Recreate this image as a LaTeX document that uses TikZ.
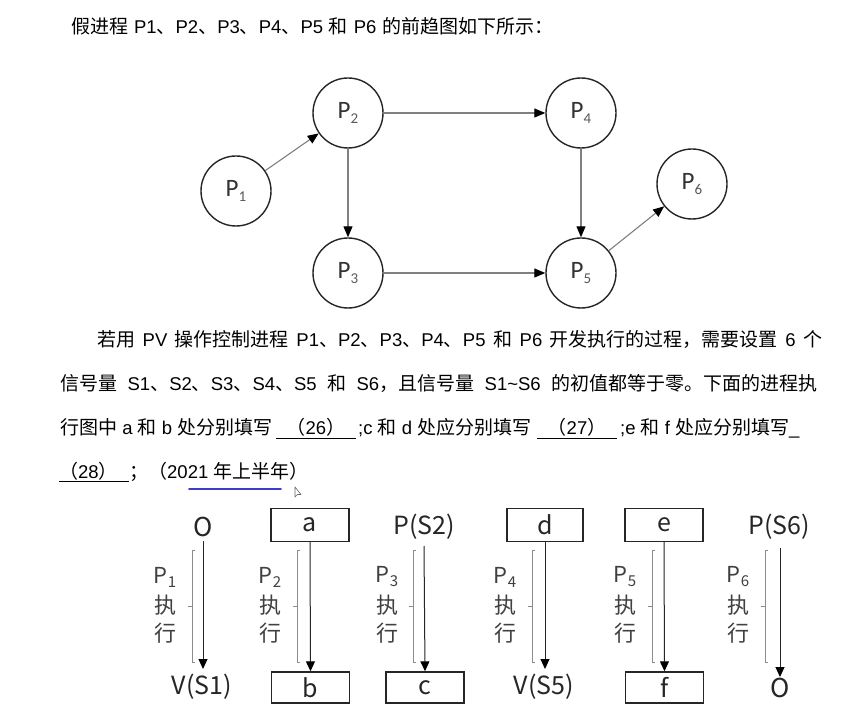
\documentclass[tikz,border=0pt]{standalone}
\usepackage{fontspec}
\setmainfont{Liberation Sans}
\newfontfamily\zhfont{Noto Sans CJK SC}
\newfontfamily\dgfont{Noto Sans CJK SC}
\newfontfamily\grfont{Carlito}
\usetikzlibrary{arrows.meta}
\definecolor{penblue}{RGB}{60,60,205}
\newcommand\zh[1]{{\zhfont\fontsize{19}{22}\selectfont #1}}
\newcommand\paraf{\fontsize{18.5}{22}\selectfont}
\newcommand\dglarge{\dgfont\fontsize{25}{25}\selectfont}
\newcommand\dgside{\dgfont\fontsize{22}{22}\selectfont}
\newcommand\gP[1]{P\raisebox{-5pt}{\fontsize{15}{15}\selectfont\color{black!65}#1}}
\newcommand\sP[1]{P\raisebox{-4pt}{\fontsize{15}{15}\selectfont #1}}
\newcommand\brkt[1]{%
  \draw[brk] (#1+3,550) -- (#1,550) -- (#1,662) -- (#1+3,662);
  \draw[brk] (#1,606) -- (#1-4,606);}
\tikzset{
  circ/.style={circle, draw=black!85, line width=1.4pt, minimum size=70pt, inner sep=0pt, font=\grfont\fontsize{25}{25}\selectfont, text=black!80},
  garr/.style={draw=black!50, line width=1.1pt, -{Triangle[length=11pt,width=9pt,color=black]}},
  darr/.style={draw=black!85, line width=1pt, -{Triangle[length=10pt,width=9pt,color=black]}},
  box/.style={draw=black!85, line width=1.4pt, minimum width=78pt, minimum height=33pt, inner sep=0pt, font=\dglarge, text=black!85},
  dtext/.style={inner sep=0pt, font=\dglarge, text=black!85},
  otext/.style={inner sep=0pt, font=\dgfont\fontsize{26}{26}\selectfont, text=black!85},
  side/.style={inner sep=0pt, font=\dgside, text=black!75},
  brk/.style={draw=black!45, line width=0.8pt},
  para/.style={anchor=base west, inner sep=0pt, font=\paraf},
  parac/.style={anchor=base, inner sep=0pt, font=\paraf},
  uline/.style={draw=black, line width=1.1pt},
}
\begin{document}
\begin{tikzpicture}[x=1pt, y=-1pt]
\useasboundingbox (0,0) rectangle (844,711);
\fill[white] (0,0) rectangle (844,711);

% ---------- text ----------
\node[para] (t0) at (71,34) {\makebox[482pt][s]{\zh{假进程} P1\zh{、}P2\zh{、}P3\zh{、}P4\zh{、}P5 \zh{和} P6 \zh{的前趋图如下所示：}}};
\node[para] (t1) at (97,347) {\makebox[725pt][s]{\zh{若用} PV \zh{操作控制进程} P1\zh{、}P2\zh{、}P3\zh{、}P4\zh{、}P5 \zh{和} P6 \zh{开发执行的过程，需要设置} 6 \zh{个}}};
\node[para] (t2) at (60,391) {\makebox[757pt][s]{\zh{信号量} S1\zh{、}S2\zh{、}S3\zh{、}S4\zh{、}S5 \zh{和} S6\zh{，且信号量} S1\textasciitilde S6 \zh{的初值都等于零。下面的进程执}}};
\node[para] (t3a) at (60,435) {\zh{行图中} a \zh{和} b \zh{处分别填写}};
\node[parac] (t3b) at (316,435) {\zh{（}26\zh{）}};
\node[para] (t3c) at (358,435) {;c \zh{和} d \zh{处应分别填写}};
\node[parac] (t3d) at (577,435) {\zh{（}27\zh{）}};
\node[para] (t3e) at (620,435) {;e \zh{和} f \zh{处应分别填写}\_};
\node[para] (t4a) at (59,478) {\zh{（}28\zh{）}};
\node[para] (t4b) at (129,478) {\zh{；（}2021 \zh{年上半年）}};
\draw[uline] (276,438.5) -- (356,438.5);
\draw[uline] (537,438.5) -- (617,438.5);
\draw[uline] (59,481.5) -- (129,481.5);
\draw[penblue, line width=1.6pt, line cap=round] (189,489) -- (281,489);
\draw[black!60, fill=white, line width=0.6pt, line join=round] (295,487) -- (295,497) -- (297.5,494.5) -- (301,494.5) -- cycle;

% ---------- precedence graph ----------
\node[circ] (p1) at (236,191) {\gP{1}};
\node[circ] (p2) at (348,113) {\gP{2}};
\node[circ] (p3) at (348,273) {\gP{3}};
\node[circ] (p4) at (581,113) {\gP{4}};
\node[circ] (p5) at (581,273) {\gP{5}};
\node[circ] (p6) at (692,184) {\gP{6}};
\draw[garr] (p1) -- (p2);
\draw[garr] (p2) -- (p4);
\draw[garr] (p2) -- (p3);
\draw[garr] (p3) -- (p5);
\draw[garr] (p4) -- (p5);
\draw[garr] (p5) -- (p6);

% ---------- execution diagram ----------
% column 1
\node[otext] (o1) at (203,527) {O};
\node[dtext] (v1) at (202,687) {V(S1)};
\coordinate (s1) at (203,541);
\coordinate (e1) at (203,669);
\draw[darr] (s1) -- (e1);
\brkt{192}
\node[side] (l1a) at (165,577) {\sP{1}};
\node[side] (l1b) at (165,605) {执};
\node[side] (l1c) at (165,633) {行};
% column 2
\node[box] (a) at (310,525) {a};
\node[box, minimum height=31pt] (b) at (310.5,687.5) {b};
\draw[darr] (a.south) -- (b.north);
\brkt{297}
\node[side] (l2a) at (270,577) {\sP{2}};
\node[side] (l2b) at (270,605) {执};
\node[side] (l2c) at (270,633) {行};
% column 3
\node[dtext] (ps2) at (424,527) {P(S2)};
\node[box, minimum height=31pt] (c) at (425,687.5) {c};
\coordinate (s3) at (424,546);
\draw[darr] (s3) -- (c.north);
\brkt{413}
\node[side] (l3a) at (387,577) {\sP{3}};
\node[side] (l3b) at (387,605) {执};
\node[side] (l3c) at (387,633) {行};
% column 4
\node[box, minimum width=76pt] (d) at (545,525) {d};
\node[dtext] (v5) at (544,687) {V(S5)};
\coordinate (e4) at (545,669);
\draw[darr] (d.south) -- (e4);
\brkt{532}
\node[side] (l4a) at (505,577) {\sP{4}};
\node[side] (l4b) at (505,605) {执};
\node[side] (l4c) at (505,633) {行};
% column 5
\node[box] (e) at (664,525) {e};
\node[box, minimum height=31pt] (f) at (664.5,687.5) {f};
\draw[darr] (e.south) -- (f.north);
\brkt{652}
\node[side] (l5a) at (625,577) {\sP{5}};
\node[side] (l5b) at (625,605) {执};
\node[side] (l5c) at (625,633) {行};
% column 6
\node[dtext] (ps6) at (779,527) {P(S6)};
\node[otext] (o6) at (780,688) {O};
\coordinate (s6) at (780,548);
\coordinate (e6) at (780,677);
\draw[darr] (s6) -- (e6);
\brkt{765}
\node[side] (l6a) at (738,577) {\sP{6}};
\node[side] (l6b) at (738,605) {执};
\node[side] (l6c) at (738,633) {行};
\end{tikzpicture}
\end{document}
